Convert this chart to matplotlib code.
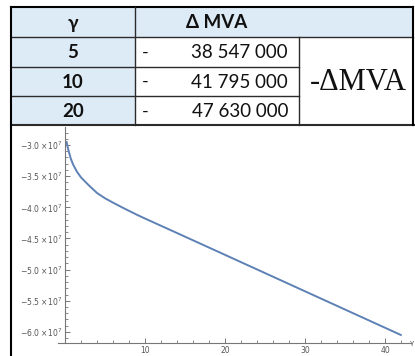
import matplotlib
matplotlib.use("Agg")
import matplotlib.pyplot as plt
from matplotlib.patches import Rectangle
from matplotlib.ticker import MultipleLocator, FixedLocator, FuncFormatter

# Table data
gammas = [5, 10, 20]
delta_mva = [38547000, 41795000, 47630000]
header_gamma = "γ"
header_mva = "Δ MVA"
side_label = "-ΔMVA"

# Curve of -ΔMVA against γ
curve_gamma = [0.2, 0.3, 0.4, 0.7, 1.0, 1.5, 2.0, 3.0, 4.0, 5.0, 6.0, 7.0, 8.0, 9.0,
               10.0, 15.0, 20.0, 30.0, 42.0]
curve_value = [-29.5e6, -30.15e6, -30.7e6, -32.1e6, -33.1e6, -34.3e6, -35.2e6, -36.5e6,
               -37.7e6, -38.55e6, -39.25e6, -39.92e6, -40.57e6, -41.2e6, -41.8e6,
               -44.71e6, -47.63e6, -53.48e6, -60.5e6]

y_ticks = [-3.0e7, -3.5e7, -4.0e7, -4.5e7, -5.0e7, -5.5e7, -6.0e7]
x_ticks = [10, 20, 30, 40]

W, H = 415, 356
fig = plt.figure(figsize=(W / 100, H / 100), dpi=100)
fig.patch.set_facecolor("white")

# Canvas in pixel units for the table
bg = fig.add_axes([0, 0, 1, 1])
bg.set_xlim(0, W)
bg.set_ylim(H, 0)
bg.axis("off")

blue = "#DDEBF7"
line_c = "#2b2b2b"
L, C1, C2, R = 11, 135, 299, 413
rows = [7, 37, 66.5, 96, 125]

# fills
bg.add_patch(Rectangle((L, rows[0]), R - L, rows[1] - rows[0], facecolor=blue, edgecolor="none"))
bg.add_patch(Rectangle((L, rows[1]), C1 - L, rows[4] - rows[1], facecolor=blue, edgecolor="none"))

# grid lines
lw_in, lw_out = 1.0, 1.5
bg.plot([L, R], [rows[0], rows[0]], color="black", lw=lw_out)
bg.plot([L, R], [rows[1], rows[1]], color=line_c, lw=lw_in)
for yy in rows[2:4]:
    bg.plot([L, C2], [yy, yy], color=line_c, lw=lw_in)
bg.plot([L, W], [rows[4], rows[4]], color=line_c, lw=lw_out)
bg.plot([L, L], [rows[0], H], color="black", lw=lw_out)
bg.plot([R, R], [rows[0], rows[4]], color="black", lw=lw_out)
bg.plot([C1, C1], [rows[0], rows[4]], color=line_c, lw=lw_in)
bg.plot([C2, C2], [rows[1], rows[4]], color=line_c, lw=lw_in)

sans = ["Lato", "DejaVu Sans"]
bg.text((L + C1) / 2, (rows[0] + rows[1]) / 2 + 1, header_gamma, ha="center", va="center",
        fontsize=13.5, fontweight="bold", family=sans, color="#111111")
bg.text((C1 + C2) / 2, (rows[0] + rows[1]) / 2 + 1, header_mva, ha="center", va="center",
        fontsize=13.5, fontweight="bold", family=sans, color="#111111")

for i, (g, v) in enumerate(zip(gammas, delta_mva)):
    yc = (rows[i + 1] + rows[i + 2]) / 2 + 1
    bg.text((L + C1) / 2, yc, str(g), ha="center", va="center", fontsize=13.5,
            fontweight="bold", family=sans, color="#111111")
    bg.text(145, yc, "-", ha="center", va="center", fontsize=13, family=sans, color="#111111")
    bg.text(288, yc, f"{v:,}".replace(",", " "), ha="right", va="center", fontsize=13.5,
            family=sans, color="#111111")

bg.text((C2 + R) / 2 + 2, (rows[1] + rows[4]) / 2 + 1, side_label, ha="center", va="center",
        fontsize=22, family="Liberation Serif", color="#111111")

# Plot of the curve
ax_l, ax_r, ax_t, ax_b = 58, 411, 127, 343
ax = fig.add_axes([ax_l / W, 1 - ax_b / H, (ax_r - ax_l) / W, (ax_b - ax_t) / H])
ax.set_facecolor("none")
ax.plot(curve_gamma, curve_value, color="#5E81B5", lw=1.4, solid_capstyle="round",
        solid_joinstyle="round")
ax.set_xlim(-0.875, 43.25)
ax.set_ylim(-6.178e7, -2.711e7)

axis_c = "#777777"
for s in ["top", "right"]:
    ax.spines[s].set_visible(False)
ax.spines["left"].set_position(("data", 0))
ax.spines["left"].set_color(axis_c)
ax.spines["bottom"].set_color(axis_c)
ax.spines["left"].set_linewidth(0.8)
ax.spines["bottom"].set_linewidth(0.8)

ax.yaxis.set_major_locator(FixedLocator(y_ticks))
ax.yaxis.set_minor_locator(MultipleLocator(1e6))
ax.xaxis.set_major_locator(FixedLocator(x_ticks))
ax.xaxis.set_minor_locator(FixedLocator([v for v in range(2, 43, 2) if v % 10]))


def ylab(v, pos):
    return r"$-%.1f\times10^{7}$" % abs(v / 1e7)


ax.yaxis.set_major_formatter(FuncFormatter(ylab))
ax.tick_params(axis="both", which="major", direction="in", length=3.5, width=0.7,
               colors=axis_c, labelsize=5.5, labelcolor="#555555", pad=2)
ax.tick_params(axis="both", which="minor", direction="in", length=2, width=0.6, colors=axis_c)

# axis label at the end of the horizontal axis
bg.text(W - 0.5, ax_b, "γ", ha="right", va="center", fontsize=5, color="#555555")

fig.savefig("out.png", dpi=100, facecolor="white")
